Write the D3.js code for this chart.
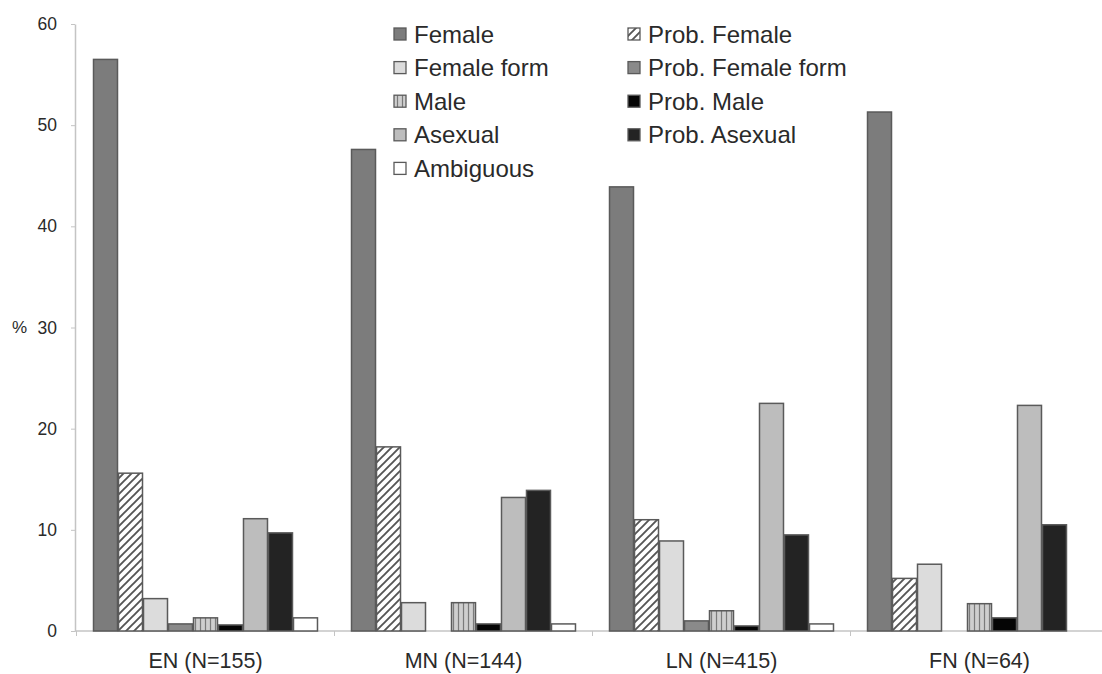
<!DOCTYPE html>
<html><head><meta charset="utf-8">
<script src="https://cdn.jsdelivr.net/npm/d3@7"></script>
<style>
body{margin:0;background:#fff}
svg{display:block}
text{font-family:"Liberation Sans",Arial,sans-serif;fill:#2a2a2a}
</style></head><body>
<svg id="c" width="1102" height="674"></svg>
<script>
const categories=["EN (N=155)","MN (N=144)","LN (N=415)","FN (N=64)"];
const seriesNames=["Female","Prob. Female","Female form","Prob. Female form","Male","Prob. Male","Asexual","Prob. Asexual","Ambiguous"];
const female=[56.5,47.6,43.9,51.3];
const probFemale=[15.6,18.2,11.0,5.2];
const femaleForm=[3.2,2.8,8.9,6.6];
const probFemaleForm=[0.7,0,1.0,0];
const male=[1.3,2.8,2.0,2.7];
const probMale=[0.6,0.7,0.5,1.3];
const asexual=[11.1,13.2,22.5,22.3];
const probAsexual=[9.7,13.9,9.5,10.5];
const ambiguous=[1.3,0.7,0.7,0];
const yTicks=[0,10,20,30,40,50,60];
const legendLeft=["Female","Female form","Male","Asexual","Ambiguous"];
const legendRight=["Prob. Female","Prob. Female form","Prob. Male","Prob. Asexual"];

const values=[female,probFemale,femaleForm,probFemaleForm,male,probMale,asexual,probAsexual,ambiguous];
const fills={
  "Female":"#7c7c7c",
  "Prob. Female":"url(#hatch)",
  "Female form":"#dcdcdc",
  "Prob. Female form":"#8a8a8a",
  "Male":"url(#vstripe)",
  "Prob. Male":"#050505",
  "Asexual":"#bdbdbd",
  "Prob. Asexual":"#232323",
  "Ambiguous":"#ffffff"
};

const svg=d3.select("#c");
const defs=svg.append("defs");
const h=defs.append("pattern").attr("id","hatch").attr("patternUnits","userSpaceOnUse").attr("width",8).attr("height",8);
h.append("rect").attr("width",8).attr("height",8).attr("fill","#fff");
h.append("path").attr("d","M-2,2 l4,-4 M0,8 l8,-8 M6,10 l4,-4").attr("stroke","#555").attr("stroke-width",1.9);
const v=defs.append("pattern").attr("id","vstripe").attr("patternUnits","userSpaceOnUse").attr("width",5).attr("height",5);
v.append("rect").attr("width",5).attr("height",5).attr("fill","#cfcfcf");
v.append("path").attr("d","M2.5,0 V5").attr("stroke","#7a7a7a").attr("stroke-width",1.2);

const y=d3.scaleLinear().domain([0,60]).range([631,24]);
const x0=d3.scaleBand().domain(categories).range([75,1110]).paddingInner(0.128).paddingOuter(0.0698);
const x1=d3.scaleBand().domain(seriesNames).range([0,x0.bandwidth()]).padding(0);

// y axis
const ya=svg.append("g").attr("transform","translate(75,0)")
  .call(d3.axisLeft(y).tickValues(yTicks).tickSize(4).tickSizeOuter(0).tickPadding(14));
ya.select(".domain").attr("stroke","#c4c4c4").attr("stroke-width",1.5);
ya.selectAll(".tick line").attr("stroke","#c4c4c4");
ya.selectAll(".tick text").attr("font-size",17.5).attr("fill","#333").style("font-family","Liberation Sans, Arial, sans-serif");
svg.append("text").attr("x",12).attr("y",y(30)).attr("dy","0.35em").attr("font-size",17).attr("fill","#333").text("%");

// baseline
svg.append("line").attr("x1",75).attr("x2",1102).attr("y1",y(0)).attr("y2",y(0)).attr("stroke","#c4c4c4").attr("stroke-width",1.5);
const step=x0.step();
categories.forEach((c,i)=>{
  const bx=x0(c)-(step-x0.bandwidth())/2;
  svg.append("line").attr("x1",bx).attr("x2",bx).attr("y1",y(0)).attr("y2",y(0)+5).attr("stroke","#c4c4c4");
});

// bars
const groups=svg.append("g").selectAll("g").data(categories).join("g")
  .attr("transform",d=>`translate(${x0(d)},0)`);
groups.selectAll("rect").data((d,i)=>seriesNames.map((s,j)=>({s,v:values[j][i]})).filter(o=>o.v>0))
  .join("rect")
  .attr("x",d=>x1(d.s)+0.5)
  .attr("y",d=>y(d.v))
  .attr("width",x1.bandwidth()-1)
  .attr("height",d=>y(0)-y(d.v))
  .attr("fill",d=>fills[d.s])
  .attr("stroke","#5a5a5a")
  .attr("stroke-width",1.5);

// x labels
svg.append("g").selectAll("text").data(categories).join("text")
  .attr("x",d=>x0(d)+x0.bandwidth()/2).attr("y",660).attr("dy","0.35em")
  .attr("text-anchor","middle").attr("font-size",21.5).attr("fill","#333").text(d=>d);

// legend
function legendCol(items,sx,tx){
  const g=svg.append("g");
  items.forEach((name,i)=>{
    const cy=34+i*33.6;
    g.append("rect").attr("x",sx).attr("y",cy-6).attr("width",12).attr("height",12)
      .attr("fill",fills[name]).attr("stroke","#5a5a5a").attr("stroke-width",1.3);
    g.append("text").attr("x",tx).attr("y",cy).attr("dy","0.36em").attr("font-size",24).attr("fill","#2a2a2a").text(name);
  });
}
legendCol(legendLeft,394,414);
legendCol(legendRight,628,648);
</script></body></html>
